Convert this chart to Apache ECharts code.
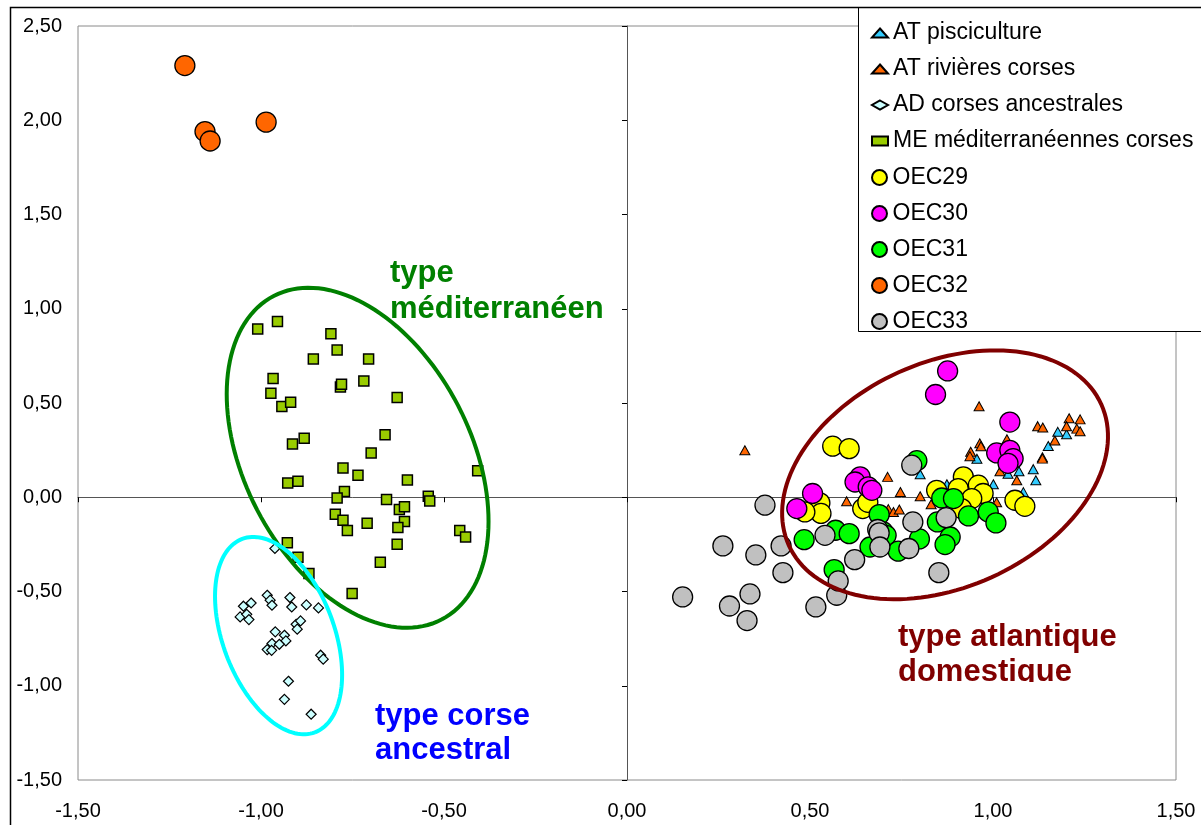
<!DOCTYPE html>
<html>
<head>
<meta charset="utf-8">
<script src="https://cdn.jsdelivr.net/npm/echarts@6/dist/echarts.min.js"></script>
<style>
html,body{margin:0;padding:0;background:#fff;}
#chart{width:1201px;height:825px;}
</style>
</head>
<body>
<div id="chart"></div>
<script>
// ---------- DATA ----------
const seriesNames = ['AT pisciculture','AT rivières corses','AD corses ancestrales','ME méditerranéennes corses','OEC29','OEC30','OEC31','OEC32','OEC33'];

const xTickLabels = ['-1,50','-1,00','-0,50','0,00','0,50','1,00','1,50'];
const yTickLabels = ['-1,50','-1,00','-0,50','0,00','0,50','1,00','1,50','2,00','2,50'];

const atPisciculture = [[0.801,0.122],[0.956,0.204],[1.041,0.125],[1.071,0.138],[1.110,0.149],[1.117,0.090],[1.001,0.069],[0.874,0.069],[1.083,0.027],[1.151,0.272],[1.177,0.347],[1.201,0.334]];

const atRivieresCorses = [[0.322,0.249],[0.600,-0.021],[0.712,0.108],[0.747,0.028],[0.714,-0.063],[0.728,-0.078],[0.744,-0.065],[0.801,0.005],[0.831,-0.037],[0.962,0.483],[0.964,0.286],[0.967,0.271],[0.939,0.241],[0.937,0.218],[1.038,0.308],[1.019,0.138],[1.065,0.090],[1.010,-0.027],[1.122,0.377],[1.136,0.370],[1.135,0.212],[1.135,0.205],[1.169,0.301],[1.208,0.419],[1.238,0.413],[1.201,0.377],[1.229,0.364],[1.238,0.350]];

const adCorsesAncestrales = [[-0.962,-0.272],[-1.048,-0.578],[-1.027,-0.561],[-1.057,-0.635],[-1.039,-0.621],[-1.033,-0.649],[-0.983,-0.520],[-0.975,-0.546],[-0.970,-0.573],[-0.921,-0.532],[-0.916,-0.582],[-0.876,-0.571],[-0.843,-0.587],[-0.904,-0.674],[-0.892,-0.656],[-0.901,-0.700],[-0.961,-0.714],[-0.936,-0.732],[-0.932,-0.762],[-0.970,-0.776],[-0.950,-0.780],[-0.983,-0.808],[-0.971,-0.812],[-0.837,-0.838],[-0.830,-0.859],[-0.925,-0.976],[-0.936,-1.072],[-0.863,-1.151]];

const meMediterraneennes = [[-1.009,0.893],[-0.955,0.932],[-0.809,0.868],[-0.792,0.781],[-0.857,0.734],[-0.706,0.734],[-0.967,0.630],[-0.973,0.552],[-0.943,0.481],[-0.919,0.504],[-0.783,0.585],[-0.780,0.599],[-0.719,0.617],[-0.628,0.529],[-0.914,0.283],[-0.882,0.313],[-0.661,0.331],[-0.699,0.235],[-0.776,0.155],[-0.735,0.117],[-0.927,0.076],[-0.899,0.085],[-0.600,0.092],[-0.408,0.140],[-0.772,0.030],[-0.792,-0.004],[-0.657,-0.012],[-0.543,0.005],[-0.539,-0.020],[-0.622,-0.065],[-0.608,-0.051],[-0.797,-0.090],[-0.776,-0.122],[-0.710,-0.138],[-0.608,-0.129],[-0.626,-0.161],[-0.764,-0.177],[-0.457,-0.177],[-0.441,-0.211],[-0.628,-0.249],[-0.928,-0.242],[-0.899,-0.318],[-0.869,-0.405],[-0.674,-0.345],[-0.751,-0.511]];

const oec29 = [[0.562,0.271],[0.607,0.258],[0.527,-0.030],[0.530,-0.086],[0.486,-0.078],[0.644,-0.060],[0.658,-0.027],[0.846,0.037],[0.919,0.108],[0.905,0.046],[0.960,0.064],[0.973,0.020],[0.942,-0.007],[0.914,-0.060],[1.060,-0.016],[1.087,-0.048]];

const oec30 = [[0.876,0.670],[0.843,0.545],[1.046,0.399],[1.010,0.235],[1.046,0.249],[1.055,0.205],[1.041,0.180],[0.507,0.020],[0.464,-0.060],[0.637,0.108],[0.623,0.081],[0.659,0.055],[0.669,0.037]];

const oec31 = [[0.484,-0.225],[0.566,-0.384],[0.570,-0.175],[0.607,-0.193],[0.689,-0.092],[0.664,-0.264],[0.700,-0.184],[0.708,-0.202],[0.741,-0.286],[0.799,-0.221],[0.792,0.194],[0.860,-0.004],[0.892,-0.007],[0.933,-0.099],[0.987,-0.078],[1.008,-0.136],[0.848,-0.131],[0.883,-0.211],[0.869,-0.251]];

const oec32 = [[-1.208,2.29],[-1.153,1.94],[-1.139,1.89],[-0.986,1.99]];

const oec33 = [[0.377,-0.042],[0.262,-0.258],[0.352,-0.306],[0.421,-0.258],[0.426,-0.400],[0.152,-0.529],[0.280,-0.577],[0.336,-0.513],[0.328,-0.654],[0.516,-0.582],[0.573,-0.520],[0.577,-0.444],[0.541,-0.202],[0.622,-0.331],[0.685,-0.171],[0.689,-0.189],[0.691,-0.264],[0.770,-0.272],[0.781,-0.131],[0.778,0.170],[0.852,-0.400],[0.872,-0.108]];

// region ellipses in data units: centre x, centre y, conjugate half-axis u (x,y), v (x,y)
const regionEllipses = [
  [-0.736, 0.2095, 0.2292, -0.8584, -0.2746, -0.2764],
  [-0.952, -0.734, 0.0993, -0.513, -0.1424, -0.104],
  [0.869, 0.119, 0.4268, 0.374, 0.1266, -0.544]
];

// ---------- STYLE ----------
const FONT = "'Liberation Sans', Arial, sans-serif";
const ellipseColors = ['#008000', '#00FFFF', '#800000'];

const chart = echarts.init(document.getElementById('chart'), null, {renderer: 'canvas'});

function scatter(name, data, symbol, size, color, bw) {
  return {
    name: name, type: 'scatter', data: data, symbol: symbol, symbolSize: size,
    xAxisIndex: 0, yAxisIndex: 0,
    itemStyle: {color: color, borderColor: '#000', borderWidth: bw, opacity: 1},
    emphasis: {disabled: true}, z: 3
  };
}

const series = [
  scatter(seriesNames[0], atPisciculture, 'triangle', [10, 9], '#33CCFF', 1),
  scatter(seriesNames[1], atRivieresCorses, 'triangle', [10, 9], '#FF6600', 1),
  scatter(seriesNames[2], adCorsesAncestrales, 'diamond', 10, '#CCFFFF', 1.2),
  scatter(seriesNames[3], meMediterraneennes, 'rect', 10, '#99CC00', 1.5),
  scatter(seriesNames[4], oec29, 'circle', 20, '#FFFF00', 1.3),
  scatter(seriesNames[5], oec30, 'circle', 20, '#FF00FF', 1.3),
  scatter(seriesNames[6], oec31, 'circle', 20, '#00FF00', 1.3),
  scatter(seriesNames[7], oec32, 'circle', 20, '#FF6600', 1.3),
  scatter(seriesNames[8], oec33, 'circle', 20, '#C0C0C0', 1.3),
  {
    type: 'custom', name: 'ellipses', silent: true, clip: false, z: 10,
    xAxisIndex: 0, yAxisIndex: 0,
    data: regionEllipses,
    encode: {x: 0, y: 1},
    renderItem: function (params, api) {
      const d = regionEllipses[params.dataIndex];
      const pts = [];
      const N = 144;
      for (let k = 0; k <= N; k++) {
        const t = 2 * Math.PI * k / N;
        pts.push(api.coord([d[0] + d[2] * Math.cos(t) + d[4] * Math.sin(t),
                            d[1] + d[3] * Math.cos(t) + d[5] * Math.sin(t)]));
      }
      return {type: 'polyline', shape: {points: pts},
              style: {fill: null, stroke: ellipseColors[params.dataIndex], lineWidth: 4}};
    }
  }
];

const option = {
  animation: false,
  backgroundColor: '#fff',
  textStyle: {fontFamily: FONT},
  grid: {left: 78, right: 25, top: 26, bottom: 45, show: true, borderColor: '#8a8a8a', borderWidth: 1, backgroundColor: '#fff'},
  xAxis: [
    {type: 'value', min: -1.5, max: 1.5, interval: 0.5, position: 'bottom',
     axisLine: {show: false, onZero: false}, axisTick: {show: false}, splitLine: {show: false},
     axisLabel: {margin: 21, fontSize: 20, color: '#000', fontFamily: FONT,
       formatter: v => xTickLabels[Math.round((v + 1.5) / 0.5)]}},
    {type: 'value', min: -1.5, max: 1.5, interval: 0.5, position: 'top',
     axisLine: {show: true, onZero: true, lineStyle: {color: '#555', width: 1}},
     axisTick: {show: true, inside: true, length: 5, lineStyle: {color: '#000'}},
     axisLabel: {show: false}, splitLine: {show: false}}
  ],
  yAxis: [
    {type: 'value', min: -1.5, max: 2.5, interval: 0.5, position: 'left',
     axisLine: {show: false, onZero: false}, axisTick: {show: false}, splitLine: {show: false},
     axisLabel: {margin: 16, fontSize: 20, color: '#000', fontFamily: FONT,
       formatter: v => yTickLabels[Math.round((v + 1.5) / 0.5)]}},
    {type: 'value', min: -1.5, max: 2.5, interval: 0.5, position: 'right',
     axisLine: {show: true, onZero: true, lineStyle: {color: '#555', width: 1}},
     axisTick: {show: true, inside: true, length: 5, lineStyle: {color: '#000'}},
     axisLabel: {show: false}, splitLine: {show: false}}
  ],
  legend: [
    {data: seriesNames.slice(0, 4), orient: 'vertical', left: 866, top: 15, z: 20,
     itemWidth: 16, itemHeight: 9, itemGap: 10, selectedMode: false,
     textStyle: {fontSize: 23, lineHeight: 26, color: '#000', fontFamily: FONT}},
    {data: seriesNames.slice(4), orient: 'vertical', left: 866, top: 159.5, z: 20,
     itemWidth: 16, itemHeight: 15, itemGap: 10, selectedMode: false,
     textStyle: {fontSize: 23, lineHeight: 26, color: '#000', fontFamily: FONT}}
  ],
  graphic: [
    {type: 'rect', z: 100, silent: true, shape: {x: 10.5, y: 7.5, width: 1300, height: 900},
     style: {fill: null, stroke: '#000', lineWidth: 1.5}},
    {type: 'rect', z: 15, silent: true, shape: {x: 858.5, y: 7.5, width: 400, height: 324},
     style: {fill: '#fff', stroke: '#000', lineWidth: 1}},
    {type: 'text', z: 30, silent: true, left: 390, top: 255,
     style: {text: 'type\nméditerranéen', fill: '#008000', font: 'bold 31px ' + FONT, lineHeight: 36}},
    {type: 'text', z: 30, silent: true, left: 375, top: 699,
     style: {text: 'type corse\nancestral', fill: '#0000FF', font: 'bold 31px ' + FONT, lineHeight: 34}},
    {type: 'text', z: 30, silent: true, left: 898, top: 620,
     style: {text: 'type atlantique\ndomestique', fill: '#800000', font: 'bold 31px ' + FONT, lineHeight: 35}},
    {type: 'rect', z: 31, silent: true, shape: {x: 890, y: 682, width: 200, height: 20},
     style: {fill: '#fff'}}
  ],
  series: series
};

chart.setOption(option);
</script>
</body>
</html>
